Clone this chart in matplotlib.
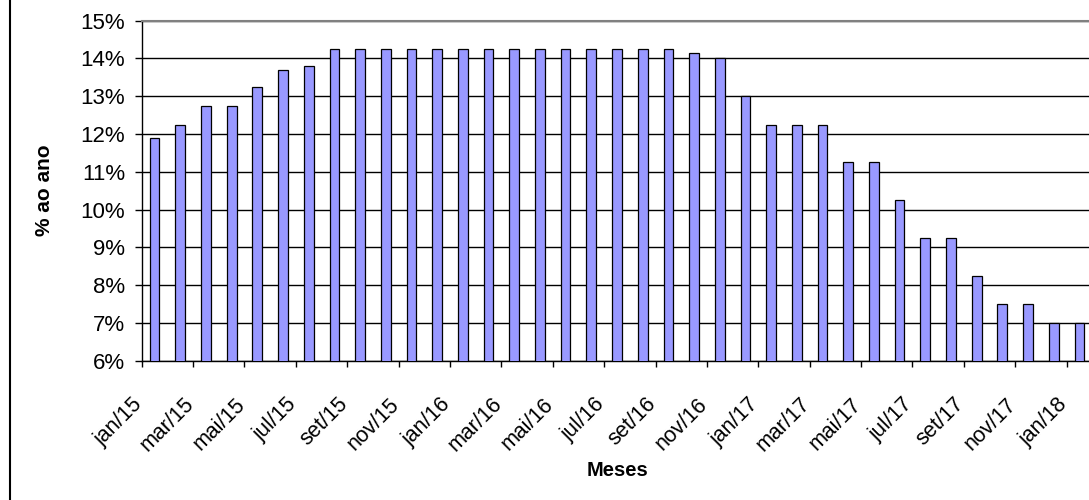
import matplotlib
matplotlib.use("Agg")
import matplotlib.pyplot as plt
from matplotlib.lines import Line2D
from matplotlib.transforms import ScaledTranslation
import numpy as np

plt.rcParams['font.family'] = ['Liberation Sans', 'DejaVu Sans']

months = ["jan", "fev", "mar", "abr", "mai", "jun", "jul", "ago", "set", "out", "nov", "dez"]
categories = [f"{months[i % 12]}/{15 + i // 12}" for i in range(37)]

values = [11.89, 12.25, 12.75, 12.75, 13.25, 13.70, 13.80,
          14.25, 14.25, 14.25, 14.25, 14.25, 14.25, 14.25,
          14.25, 14.25, 14.25, 14.25, 14.25, 14.25, 14.25,
          14.15, 14.00, 13.00, 12.25, 12.25, 12.25, 11.25,
          11.25, 10.25, 9.25, 9.25, 8.25, 7.50, 7.50, 7.00, 7.00]

yticks = [6, 7, 8, 9, 10, 11, 12, 13, 14, 15]
ytick_labels = [f"{v}%" for v in yticks]

W, H = 1089, 500
fig = plt.figure(figsize=(W / 100, H / 100), dpi=100)
left, right, top, bottom = 141.7, 1092.3, 20.7, 360.7
ax = fig.add_axes([left / W, 1 - bottom / H, (right - left) / W, (bottom - top) / H])

x = np.arange(len(values))
ax.bar(x, values, width=0.38, color='#9999FF', edgecolor='black', linewidth=0.9, zorder=3)

ax.set_xlim(-0.5, len(values) - 0.5)
ax.set_ylim(6, 15)

ax.set_yticks(yticks)
ax.set_yticklabels(ytick_labels, fontsize=16)
ax.yaxis.grid(True, color='black', linewidth=1.0)
ax.set_axisbelow(True)

tick_pos = [i - 0.5 for i in range(0, len(values), 2)]
tick_lab = [categories[i] for i in range(0, len(values), 2)]
ax.set_xticks(tick_pos)
ax.set_xticklabels(tick_lab, fontsize=15.5, rotation=45, ha='right')

ax.tick_params(axis='y', direction='out', length=5.3, width=1.0, pad=6.5, colors='black')
ax.tick_params(axis='x', direction='out', length=4.3, width=1.0, pad=19.5, colors='black')

shift = ScaledTranslation(5 / 100, 0, fig.dpi_scale_trans)
for lab in ax.get_xticklabels():
    lab.set_transform(lab.get_transform() + shift)

for s in ['left', 'bottom']:
    ax.spines[s].set_color('black')
    ax.spines[s].set_linewidth(1.0)
for s in ['top', 'right']:
    ax.spines[s].set_color('#808080')
    ax.spines[s].set_linewidth(1.5)

fig.text(45 / W, 1 - 190 / H, "% ao ano", rotation=90, ha='center', va='center',
         fontsize=15, fontweight='bold')
fig.text(617 / W, 1 - 470 / H, "Meses", ha='center', va='center',
         fontsize=14.5, fontweight='bold')

fig.add_artist(Line2D([9.5 / W, 9.5 / W], [0, 1], color='black', linewidth=1.5,
                      transform=fig.transFigure))

fig.savefig("out.png", dpi=100)
